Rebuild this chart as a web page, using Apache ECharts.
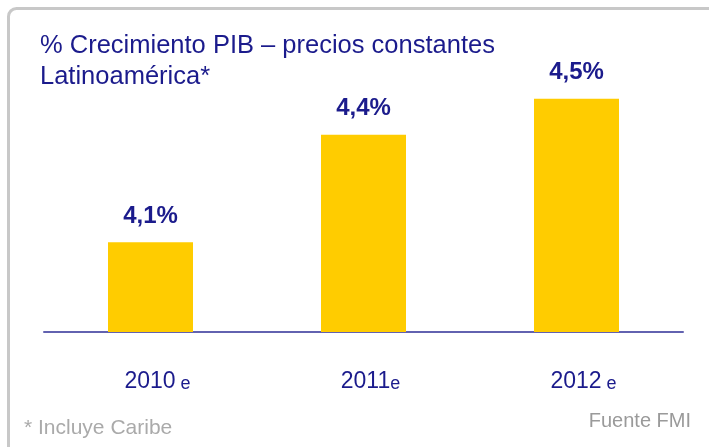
<!DOCTYPE html>
<html>
<head>
<meta charset="utf-8">
<style>
  html, body { margin: 0; padding: 0; background: #fff; }
  #chart { width: 709px; height: 447px; }
</style>
<script src="https://cdn.jsdelivr.net/npm/echarts@6/dist/echarts.min.js"></script>
</head>
<body>
<div id="chart"></div>
<script>
// datos
var years = ['2010', '2011', '2012'];
var yearSuffix = [' e', 'e', ' e'];
var growth = [4.1, 4.4, 4.5];
var growthLabels = ['4,1%', '4,4%', '4,5%'];

var navy = '#1b1b8c';
var font = '"Liberation Sans", sans-serif';

var myChart = echarts.init(document.getElementById('chart'));

var option = {
  animation: false,
  backgroundColor: '#fff',
  graphic: [
    {
      type: 'rect',
      shape: { x: 8.5, y: 8.5, width: 740, height: 480, r: 8 },
      style: { fill: 'none', stroke: '#c8c8c8', lineWidth: 3 }
    },
    {
      type: 'text',
      left: 40, top: 30,
      style: {
        text: '% Crecimiento PIB \u2013 precios constantes\nLatinoamérica*',
        fill: navy, font: '25.5px ' + font, lineHeight: 31
      }
    },
    {
      type: 'text',
      left: 24, top: 418,
      style: { text: '* Incluye Caribe', fill: '#aaaaaa', font: '21px ' + font }
    },
    {
      type: 'text',
      right: 18, top: 411,
      style: { text: 'Fuente FMI', fill: '#9a9a9a', font: '20px ' + font }
    }
  ],
  grid: { left: 44, right: 26, top: 63, bottom: 115 },
  xAxis: {
    type: 'category',
    data: years,
    axisLine: { lineStyle: { color: '#6262b0', width: 2 } },
    axisTick: { show: false },
    axisLabel: {
      margin: 38,
      padding: [0, 0, 0, 14],
      formatter: function (v, i) {
        return '{y|' + v + '}{e|' + yearSuffix[i] + '}';
      },
      rich: {
        y: { color: navy, fontSize: 23, fontFamily: font },
        e: { color: navy, fontSize: 18, fontFamily: font, verticalAlign: 'bottom' }
      }
    }
  },
  yAxis: {
    type: 'value',
    min: 3.85,
    max: 4.6,
    show: false
  },
  series: [{
    type: 'bar',
    data: growth,
    barWidth: 85,
    itemStyle: { color: '#ffcc00' },
    label: {
      show: true,
      position: 'top',
      distance: 14,
      formatter: function (p) { return growthLabels[p.dataIndex]; },
      color: navy,
      fontSize: 24,
      fontWeight: 'bold',
      fontFamily: font
    }
  }]
};

myChart.setOption(option);
</script>
</body>
</html>
